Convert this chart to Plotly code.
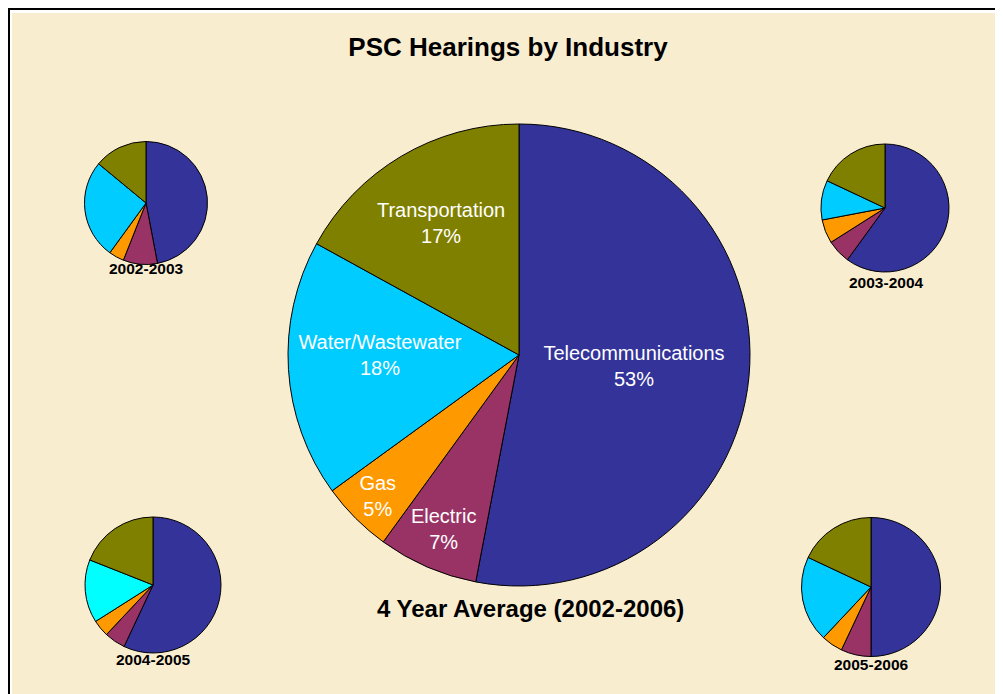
import plotly.graph_objects as go

W, H = 1003, 694
OFF = 8  # page body margin around the plot div

# Data
industries = ["Telecommunications", "Electric", "Gas", "Water/Wastewater", "Transportation"]
avg_share = [53, 7, 5, 18, 17]
years = ["2002-2003", "2003-2004", "2004-2005", "2005-2006"]
share_2002_2003 = [47, 9, 4, 26, 14]
share_2003_2004 = [60, 6, 6, 10, 18]
share_2004_2005 = [57, 5, 4, 15, 19]
share_2005_2006 = [50, 7, 5, 20, 18]

COLORS = ["#333399", "#993366", "#FF9900", "#00CCFF", "#808000"]
COLORS_ALT = ["#333399", "#993366", "#FF9900", "#00FFFF", "#808000"]
FONT = "Arial, Liberation Sans, sans-serif"
BG = "#F9EDD0"


def px(x):
    return (x - OFF) / W


def py(y):
    return 1 - (y - OFF) / H


def domain(cx, cy, d):
    # page pixel center / diameter -> paper domain
    r = d / 2
    return dict(x=[px(cx - r), px(cx + r)], y=[py(cy + r), py(cy - r)])


fig = go.Figure()

fig.add_trace(go.Pie(
    labels=industries,
    values=avg_share,
    sort=False,
    direction="clockwise",
    rotation=0,
    marker=dict(colors=COLORS, line=dict(color="black", width=1)),
    texttemplate="%{label}<br>%{percent:.0%}",
    textposition="inside",
    insidetextorientation="horizontal",
    textfont=dict(family=FONT, size=20, color="white"),
    hoverinfo="label+percent",
    domain=domain(519, 355, 462),
    showlegend=False,
))

small = [
    (share_2002_2003, COLORS, (146, 203, 123), (146, 268)),
    (share_2003_2004, COLORS, (885, 208, 128), (886, 283)),
    (share_2004_2005, COLORS_ALT, (153, 585, 136), (153, 659)),
    (share_2005_2006, COLORS, (871, 587, 139), (871, 664)),
]
annotations = [
    dict(text="<b>4 Year Average (2002-2006)</b>", x=px(530), y=py(608),
         xref="paper", yref="paper", showarrow=False, xanchor="center", yanchor="middle",
         font=dict(family=FONT, size=24, color="black")),
]
for name, (vals, cols, (cx, cy, d), (lx, ly)) in zip(years, small):
    fig.add_trace(go.Pie(
        labels=industries,
        values=vals,
        sort=False,
        direction="clockwise",
        rotation=0,
        marker=dict(colors=cols, line=dict(color="black", width=1)),
        textinfo="none",
        hoverinfo="label+percent",
        domain=domain(cx, cy, d),
        showlegend=False,
    ))
    annotations.append(dict(
        text="<b>" + name + "</b>", x=px(lx), y=py(ly), xref="paper", yref="paper",
        showarrow=False, xanchor="center", yanchor="middle",
        font=dict(family=FONT, size=15.5, color="black"),
    ))

fig.update_layout(
    width=W,
    height=H,
    margin=dict(l=0, r=0, t=0, b=0),
    paper_bgcolor="white",
    plot_bgcolor="white",
    font=dict(family=FONT, color="black"),
    title=dict(text="<b>PSC Hearings by Industry</b>", x=px(508), xanchor="center",
               y=py(47), yanchor="middle",
               font=dict(family=FONT, size=26, color="black")),
    annotations=annotations,
    shapes=[
        dict(type="rect", xref="paper", yref="paper", x0=0, x1=1.05,
             y0=-0.05, y1=1, line=dict(width=0), fillcolor="black", layer="below"),
        dict(type="rect", xref="paper", yref="paper", x0=2 / W, x1=1.05,
             y0=-0.05, y1=1 - 2 / H, line=dict(width=0), fillcolor="white", layer="below"),
        dict(type="rect", xref="paper", yref="paper", x0=4 / W, x1=1.05,
             y0=-0.05, y1=1 - 5 / H, line=dict(width=0), fillcolor=BG, layer="below"),
    ],
)

fig.write_html("out.html")
